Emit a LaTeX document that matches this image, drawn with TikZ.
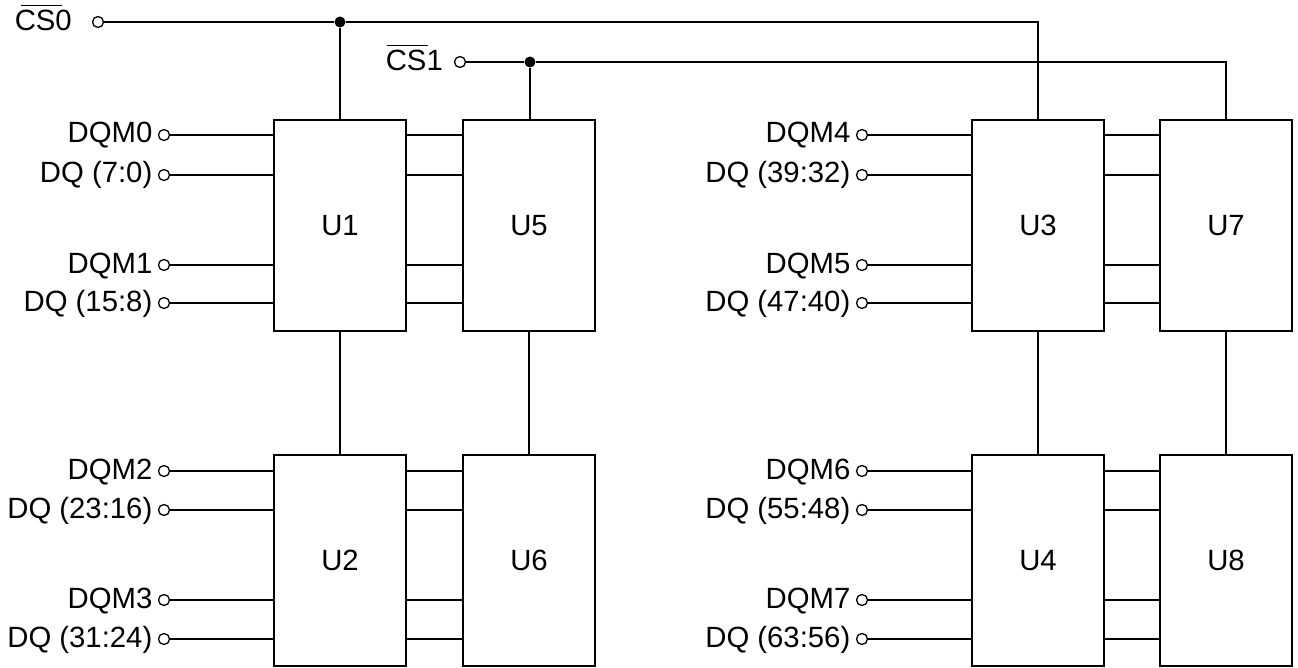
\documentclass[tikz,border=0pt]{standalone}
\usepackage{fontspec}
\setmainfont{Liberation Sans}
\newcommand{\barcs}[1]{\rlap{\kern#1\rule[24pt]{41pt}{1.2pt}}CS}
\tikzset{
    chipbox/.style={draw, line width=1.5pt, minimum width=132pt, minimum height=211pt, inner sep=0pt, font=\fontsize{29.3}{32}\selectfont},
    pinhole/.style={draw, circle, line width=1.3pt, inner sep=0pt, minimum size=11pt},
    dotjoin/.style={fill, circle, inner sep=0pt, minimum size=11pt},
    pinlabel/.style={anchor=base east, inner sep=0pt, font=\fontsize{29.3}{32}\selectfont},
    wire/.style={line width=1.5pt}
}
\begin{document}
\begin{tikzpicture}[x=1pt, y=-1pt]
    \useasboundingbox (0,0) rectangle (1298,668);

    % Bloques
    \foreach \name/\xc/\yc in {U1/340/225.5, U5/529/225.5, U2/340/560.5, U6/529/560.5,
                               U3/1038/225.5, U7/1226/225.5, U4/1038/560.5, U8/1226/560.5}
        \node[chipbox] (\name) at (\xc,\yc) {\name};

    % Pines de la izquierda y pines entre bloques
    \foreach \id/\chip/\next/\holex/\yp/\txt in {
            a/U1/U5/164/135/DQM0, b/U1/U5/164/175/DQ (7:0),
            c/U1/U5/164/265/DQM1, d/U1/U5/164/303/DQ (15:8),
            e/U2/U6/164/471/DQM2, f/U2/U6/164/510/DQ (23:16),
            g/U2/U6/164/600/DQM3, h/U2/U6/164/639/DQ (31:24),
            i/U3/U7/862/135/DQM4, j/U3/U7/862/175/DQ (39:32),
            k/U3/U7/862/265/DQM5, l/U3/U7/862/303/DQ (47:40),
            m/U4/U8/862/471/DQM6, n/U4/U8/862/510/DQ (55:48),
            o/U4/U8/862/600/DQM7, p/U4/U8/862/639/DQ (63:56)} {
        \node[pinhole] (hole\id) at (\holex,\yp) {};
        \node[pinlabel] (label\id) at (\holex-11.5,\yp+8) {\txt};
        \draw[wire] (hole\id.east) -- (hole\id.east -| \chip.west);
        \draw[wire] (hole\id.east -| \chip.east) -- (hole\id.east -| \next.west);
    }

    % Selecciones de chip
    \node[pinhole] (holecs0) at (98,22) {};
    \node[pinlabel] (labelcs0) at (72,30.5) {\barcs{6pt}0};
    \node[pinhole] (holecs1) at (460,62) {};
    \node[pinlabel] (labelcs1) at (443,70.5) {\barcs{1pt}1};
    \node[dotjoin] (joincs0) at (340,22) {};
    \node[dotjoin] (joincs1) at (530,62) {};
    \draw[wire] (holecs0) -- (joincs0) -- (joincs0 -| U3.north) -- (U3.north);
    \draw[wire] (holecs1) -- (joincs1) -- (joincs1 -| U7.north) -- (U7.north);
    \draw[wire] (joincs0) -- (U1.north);
    \draw[wire] (joincs1) -- (joincs1 |- U5.north);

    % Uniones verticales
    \foreach \upper/\lower in {U1/U2, U5/U6, U3/U4, U7/U8}
        \draw[wire] (\upper.south) -- (\lower.north);
\end{tikzpicture}
\end{document}
